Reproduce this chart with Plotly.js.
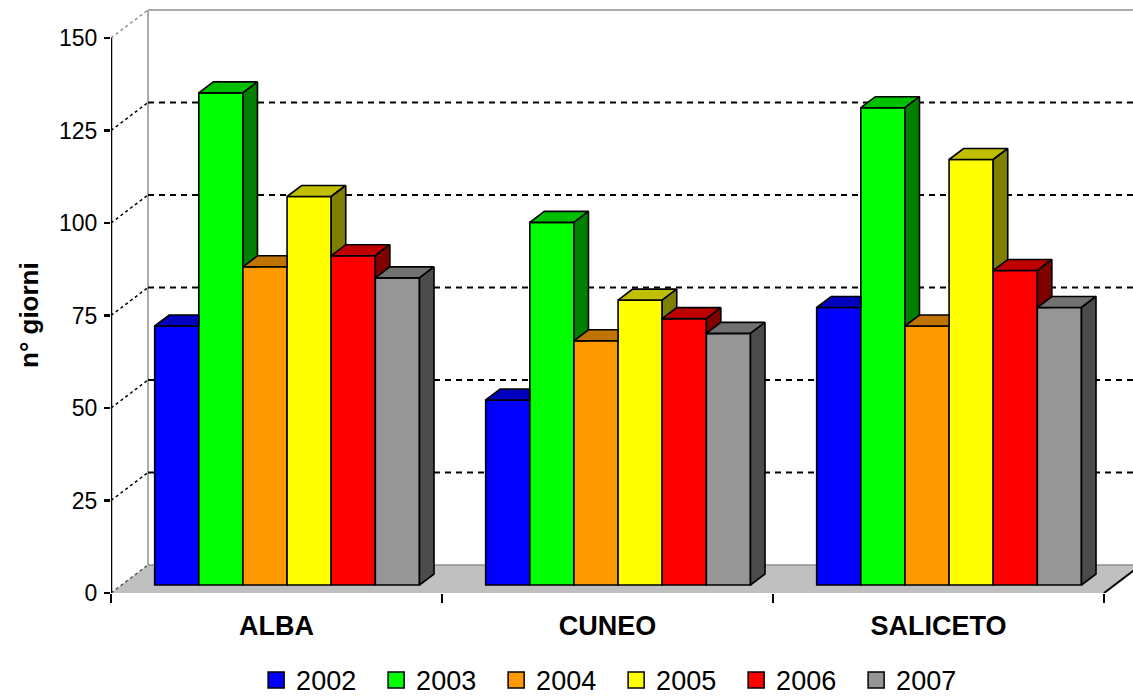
<!DOCTYPE html>
<html>
<head>
<meta charset="utf-8">
<script src="https://cdn.plot.ly/plotly-3.0.1.min.js"></script>
<style>
  html, body { margin: 0; padding: 0; background: #ffffff; }
  #chart { width: 1133px; height: 696px; }
</style>
</head>
<body>
<div id="chart"></div>
<script>
// Giorni per stazione e anno
const categories = ['ALBA', 'CUNEO', 'SALICETO'];
const years = ['2002', '2003', '2004', '2005', '2006', '2007'];
const giorni2002 = [70, 50, 75];
const giorni2003 = [133, 98, 129];
const giorni2004 = [86, 66, 70];
const giorni2005 = [105, 77, 115];
const giorni2006 = [89, 72, 85];
const giorni2007 = [83, 68, 75];
const yTicks = [0, 25, 50, 75, 100, 125, 150];
const yTickLabels = ['0', '25', '50', '75', '100', '125', '150'];

const series = [giorni2002, giorni2003, giorni2004, giorni2005, giorni2006, giorni2007];
const frontColors = ['#0000ff', '#00ff00', '#ff9900', '#ffff00', '#ff0000', '#969696'];

// ---- 3D box geometry (oblique projection, in axis units) ----
const PX_X = 331, PX_Y = 3.7;           // pixels per axis unit
const DX = 37 / PX_X, DY = 28 / PX_Y;    // full depth of the chart box
const F0 = 8 / 28, FD = 11 / 28;         // bar front plane and bar depth (fractions)
const GROUP = 0.8, W = GROUP / years.length;
const BASE = F0 * DY, BX = F0 * DX;
const BDX = FD * DX, BDY = FD * DY;
const Y_MAX = Math.max(...yTicks);

function shade(hex, k) {
  const n = parseInt(hex.slice(1), 16);
  const r = Math.round(((n >> 16) & 255) * k);
  const g = Math.round(((n >> 8) & 255) * k);
  const b = Math.round((n & 255) * k);
  return 'rgb(' + r + ',' + g + ',' + b + ')';
}

// keep the part of a polygon with y >= h
function clipAbove(poly, h) {
  const out = [];
  for (let i = 0; i < poly.length; i++) {
    const p = poly[i], q = poly[(i + 1) % poly.length];
    const pin = p[1] >= h, qin = q[1] >= h;
    if (pin) out.push(p);
    if (pin !== qin) {
      const t = (h - p[1]) / (q[1] - p[1]);
      out.push([p[0] + t * (q[0] - p[0]), h]);
    }
  }
  return out;
}

function barLeft(i, j) { return i + (1 - GROUP) / 2 + j * W + BX; }

function sidePoly(i, j) {
  const v = series[j][i];
  const x1 = barLeft(i, j) + W;
  let poly = [[x1, BASE], [x1 + BDX, BASE + BDY], [x1 + BDX, BASE + v + BDY], [x1, BASE + v]];
  if (j < years.length - 1) poly = clipAbove(poly, BASE + series[j + 1][i]);
  return poly;
}

function topPoly(i, j) {
  const v = series[j][i];
  const x0 = barLeft(i, j), x1 = x0 + W, t = BASE + v;
  const A = [x0, t], B = [x1, t], C = [x1 + BDX, t + BDY], D = [x0 + BDX, t + BDY];
  if (j === years.length - 1) return [A, B, C, D];
  const h = BASE + series[j + 1][i];
  if (h <= t) return [A, B, C, D];
  if (h >= t + BDY) return [A, [x1, t], [x1, t + BDY], D];
  const E = [x1 + (h - t) * BDX / BDY, h];
  return [A, [x1, t], [x1, h], E, C, D];
}

function polysToXY(polys) {
  const xs = [], ys = [];
  polys.forEach(function (p) {
    if (p.length < 3) return;
    if (xs.length) { xs.push(null); ys.push(null); }
    p.forEach(function (pt) { xs.push(pt[0]); ys.push(pt[1]); });
    xs.push(p[0][0]); ys.push(p[0][1]);
  });
  return { x: xs, y: ys };
}

const traces = [];

// front faces
years.forEach(function (yr, j) {
  traces.push({
    type: 'bar',
    name: yr,
    x: categories.map(function (c, i) { return barLeft(i, j) + W / 2; }),
    y: series[j],
    base: categories.map(function () { return BASE; }),
    width: W,
    marker: { color: frontColors[j], line: { color: '#000000', width: 1.6 } },
    showlegend: false,
    hoverinfo: 'skip'
  });
});

// top and side faces, painted left to right
years.forEach(function (yr, j) {
  const top = polysToXY(categories.map(function (c, i) { return topPoly(i, j); }));
  const side = polysToXY(categories.map(function (c, i) { return sidePoly(i, j); }));
  [[top, 0.75], [side, 0.5]].forEach(function (pair) {
    traces.push({
      type: 'scatter', mode: 'lines',
      x: pair[0].x, y: pair[0].y,
      fill: 'toself', fillcolor: shade(frontColors[j], pair[1]),
      line: { color: '#000000', width: 1.6 },
      connectgaps: false,
      showlegend: false, hoverinfo: 'skip'
    });
  });
});

// legend keys
years.forEach(function (yr, j) {
  traces.push({
    type: 'scatter', mode: 'markers', name: yr,
    x: [null], y: [null],
    marker: { symbol: 'square', size: 16, color: frontColors[j], line: { color: '#000000', width: 1.5 } },
    hoverinfo: 'skip'
  });
});

// walls, floor and gridlines
const XR = categories.length;
const shapes = [];
shapes.push({ type: 'path', layer: 'below', xref: 'x', yref: 'y',
  path: 'M0,0 L' + XR + ',0 L' + (XR + DX) + ',' + DY + ' L' + DX + ',' + DY + ' Z',
  fillcolor: '#c0c0c0', line: { width: 0 } });
// floor side edges
shapes.push({ type: 'line', layer: 'below', xref: 'x', yref: 'y', x0: 0, y0: 0, x1: DX, y1: DY,
  line: { color: '#555555', width: 1.5, dash: 'dot' } });
shapes.push({ type: 'line', layer: 'below', xref: 'x', yref: 'y', x0: XR, y0: 0, x1: XR + DX, y1: DY,
  line: { color: '#000000', width: 2 } });
// back wall edges
shapes.push({ type: 'line', layer: 'below', xref: 'x', yref: 'y', x0: DX, y0: DY, x1: DX, y1: Y_MAX + DY,
  line: { color: '#909090', width: 1.5 } });
shapes.push({ type: 'line', layer: 'below', xref: 'x', yref: 'y', x0: DX, y0: Y_MAX + DY, x1: XR + DX, y1: Y_MAX + DY,
  line: { color: '#909090', width: 1.5 } });
shapes.push({ type: 'line', layer: 'below', xref: 'x', yref: 'y', x0: DX, y0: DY, x1: XR + DX, y1: DY,
  line: { color: '#909090', width: 1.5 } });
yTicks.forEach(function (v) {
  if (v === 0) return;
  const isTop = v === Y_MAX;
  shapes.push({ type: 'line', layer: 'below', xref: 'x', yref: 'y', x0: 0, y0: v, x1: DX, y1: v + DY,
    line: { color: isTop ? '#909090' : '#000000', width: 1.5, dash: 'dot' } });
  if (!isTop) {
    shapes.push({ type: 'line', layer: 'below', xref: 'x', yref: 'y', x0: DX, y0: v + DY, x1: XR + DX, y1: v + DY,
      line: { color: '#000000', width: 2, dash: '6px,5px' } });
  }
});
// value axis line
shapes.push({ type: 'line', layer: 'above', xref: 'x', yref: 'y', x0: 0, y0: 0, x1: 0, y1: Y_MAX,
  line: { color: '#000000', width: 2.5 } });

const M = { l: 111, r: 0, t: 5, b: 103, autoexpand: false };
const plotW = 1133 - M.l - M.r, plotH = 696 - M.t - M.b;

const layout = {
  width: 1133, height: 696,
  margin: M,
  paper_bgcolor: '#ffffff', plot_bgcolor: '#ffffff',
  barmode: 'overlay',
  showlegend: true,
  font: { family: 'Liberation Sans, Arial, sans-serif', color: '#000000' },
  xaxis: {
    range: [0, plotW / PX_X], fixedrange: true,
    showgrid: false, zeroline: false, showline: false,
    tickmode: 'array',
    tickvals: categories.map(function (c, i) { return i + 0.5; }),
    ticktext: categories,
    ticks: '',
    ticklabelstandoff: 14,
    tickfont: { size: 27, weight: 'bold', color: '#000000' },
    minor: { tickmode: 'array', tickvals: categories.map(function (c, i) { return i; }).concat([XR]),
      ticks: 'outside', ticklen: 9, tickwidth: 2.5, tickcolor: '#000000', showgrid: false }
  },
  yaxis: {
    range: [0, plotH / PX_Y], fixedrange: true,
    showgrid: false, zeroline: false, showline: false,
    tickmode: 'array', tickvals: yTicks, ticktext: yTickLabels,
    ticks: 'outside', ticklen: 6, tickwidth: 2.5, tickcolor: '#000000',
    ticklabelstandoff: 2,
    tickfont: { size: 23, color: '#000000' }
  },
  legend: {
    orientation: 'h',
    x: 0.142, xanchor: 'left',
    y: -0.107, yanchor: 'top',
    font: { size: 27, color: '#000000' },
    entrywidth: 75,
    itemclick: false, itemdoubleclick: false,
    bgcolor: 'rgba(0,0,0,0)'
  },
  annotations: [{
    text: 'n° giorni', textangle: -90,
    xref: 'paper', yref: 'paper',
    x: (29 - M.l) / plotW, y: (593 - 315) / plotH,
    xanchor: 'center', yanchor: 'middle', showarrow: false,
    font: { size: 26, weight: 'bold', color: '#000000' }
  }],
  shapes: shapes
};

Plotly.newPlot('chart', traces, layout, { displayModeBar: false, staticPlot: true });
</script>
</body>
</html>
